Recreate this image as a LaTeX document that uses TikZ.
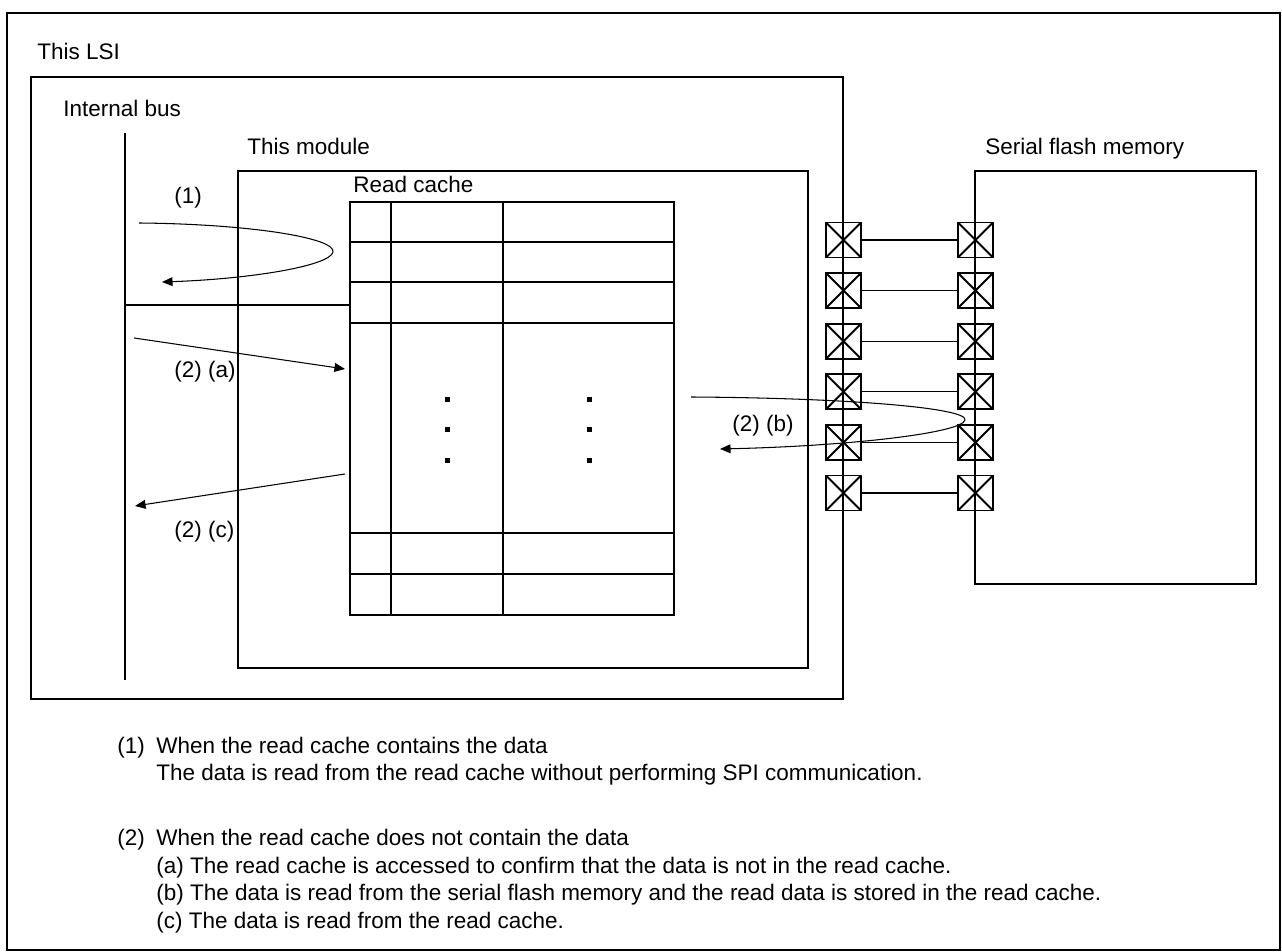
\documentclass[tikz,border=0pt]{standalone}
\usepackage{fontspec}
\setmainfont{Liberation Sans}
\usetikzlibrary{arrows.meta,calc,positioning}

\begin{document}
\begin{tikzpicture}[x=0.02cm, y=-0.02cm,
      frame/.style={line width=1.1pt},
      thinline/.style={line width=0.6pt},
      flow/.style={line width=0.6pt, -{Triangle[length=6pt,width=5pt]}},
      padbox/.style={draw, line width=1.1pt, minimum size=0.7cm, inner sep=0pt,
        path picture={\draw[line width=1.1pt] (path picture bounding box.north west) -- (path picture bounding box.south east)
          (path picture bounding box.north east) -- (path picture bounding box.south west);}},
      lbl/.style={anchor=base west, inner sep=0pt, font=\fontsize{12.8}{15}\selectfont}
    ]
      \useasboundingbox (0,0) rectangle (1282,952);
      \draw[frame] (7,13) rectangle (1280,950);

      % LSI, module and flash boxes
      \draw[frame] (31,77) rectangle (843,699);
      \draw[frame] (238,171) rectangle (808,668);
      \draw[frame] (975,171) rectangle (1256,584);
      \draw[line width=1.7pt] (125,133) -- (125,680);

      \node[lbl] (lsi) at (37,60) {This LSI};
      \node[lbl] (bus) at (63,117) {Internal bus};
      \node[lbl] (module) at (247,155) {This module};
      \node[lbl] (cache) at (353,193) {Read cache};
      \node[lbl] (flash) at (985,155) {Serial flash memory};

      % read cache table
      \draw[frame] (350,202) rectangle (674,615);
      \foreach \x in {391,503}
        \draw[frame] (\x,202) -- (\x,615);
      \foreach \y in {242,282,323,533,574}
        \draw[frame] (350,\y) -- (674,\y);
      \foreach \x in {447,589}
        \foreach \y in {400,430,461}
          \fill (\x-2.5,\y-2.5) rectangle (\x+2.5,\y+2.5);

      % pads
      \foreach \i in {1,...,6} {
        \node[padbox] (lp\i) at (843.5,{240+50.6*(\i-1)}) {};
        \node[padbox] (rp\i) at (975.5,{240+50.6*(\i-1)}) {};
        \draw[thinline] (lp\i.east) -- (rp\i.west);
      }

      % bus to cache
      \coordinate (bustap) at (125,305);
      \coordinate (cachetap) at (350,305);
      \draw[thinline] (bustap) -- (cachetap);

      % flows
      \coordinate (a1s) at (139,223);
      \coordinate (a1t) at (333,252);
      \coordinate (a1e) at (162,282);
      \draw[flow] (a1s) .. controls (250,224) and (336,238) .. (a1t)
        .. controls (330,266) and (250,279) .. (a1e);
      \node[lbl] (l1) at (174,204) {(1)};

      \coordinate (aas) at (134,338);
      \coordinate (aae) at (345,369);
      \draw[flow] (aas) -- (aae);
      \node[lbl] (la) at (174,378) {(2) (a)};

      \coordinate (abs) at (691,397);
      \coordinate (abt) at (965,420);
      \coordinate (abe) at (720,449);
      \draw[flow] (abs) .. controls (850,398) and (968,408) .. (abt)
        .. controls (962,433) and (850,446) .. (abe);
      \node[lbl] (lb) at (732,432) {(2) (b)};

      \coordinate (acs) at (345,474);
      \coordinate (ace) at (135,506);
      \draw[flow] (acs) -- (ace);
      \node[lbl] (lc) at (174,538) {(2) (c)};

      % notes
      \node[lbl] (n1) at (117,753) {(1)};
      \node[lbl] (n1a) at (156,753) {When the read cache contains the data};
      \node[lbl] (n1b) at (156,781) {The data is read from the read cache without performing SPI communication.};
      \node[lbl] (n2) at (117,845) {(2)};
      \node[lbl] (n2a) at (156,845) {When the read cache does not contain the data};
      \node[lbl] (n2b) at (156,873) {(a) The read cache is accessed to confirm that the data is not in the read cache.};
      \node[lbl] (n2c) at (156,900) {(b) The data is read from the serial flash memory and the read data is stored in the read cache.};
      \node[lbl] (n2d) at (156,928) {(c) The data is read from the read cache.};
    \end{tikzpicture}
\end{document}
